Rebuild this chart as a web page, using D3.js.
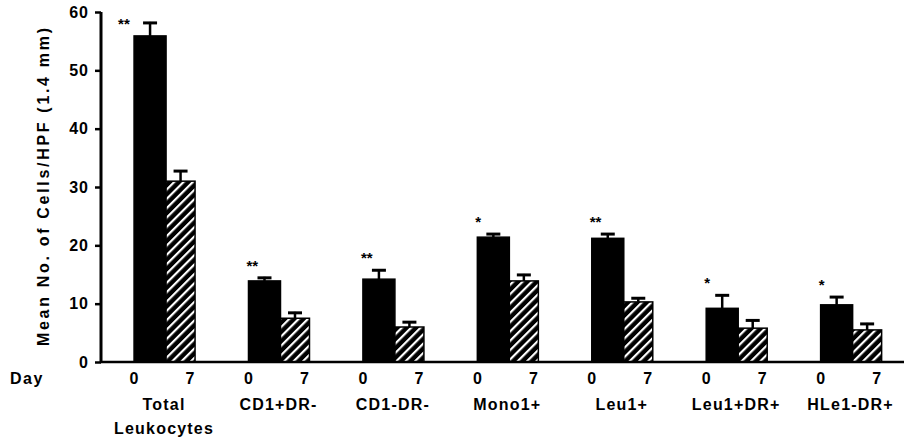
<!DOCTYPE html>
<html>
<head>
<meta charset="utf-8">
<script src="https://cdn.jsdelivr.net/npm/d3@7"></script>
<style>
  body { margin: 0; background: #fff; }
  svg { display: block; font-family: "Liberation Sans", Arial, sans-serif; }
</style>
</head>
<body>
<svg id="chart" width="904" height="441"></svg>
<script>
// cell groups and the two days
var groups = ["Total Leukocytes", "CD1+DR-", "CD1-DR-", "Mono1+", "Leu1+", "Leu1+DR+", "HLe1-DR+"];
var groupLines = [["Total", "Leukocytes"], ["CD1+DR-"], ["CD1-DR-"], ["Mono1+"], ["Leu1+"], ["Leu1+DR+"], ["HLe1-DR+"]];
var days = ["0", "7"];

// mean values and mean + error
var day0 = [55.9, 13.9, 14.2, 21.4, 21.2, 9.2, 9.8];
var day0Err = [58.3, 14.6, 15.9, 22.1, 22.1, 11.6, 11.3];
var day7 = [31.0, 7.5, 6.0, 13.9, 10.3, 5.8, 5.5];
var day7Err = [32.9, 8.6, 7.0, 15.1, 11.1, 7.3, 6.7];
var stars = ["**", "**", "**", "*", "**", "*", "*"];

var yTicks = [0, 10, 20, 30, 40, 50, 60];

var svg = d3.select("#chart");

var y = d3.scaleLinear().domain([0, 60]).range([362, 12]);

var x0 = d3.scaleBand().domain(groups).range([101, 902])
  .paddingInner(0.466).paddingOuter(0.233).align(0.62);

var x1 = d3.scaleOrdinal().domain(days).range([0, 32]);
var widths = { "0": 32, "7": 29 };

// hatch pattern
var defs = svg.append("defs");
var pat = defs.append("pattern")
  .attr("id", "hatch")
  .attr("patternUnits", "userSpaceOnUse")
  .attr("width", 6.6).attr("height", 6.6)
  .attr("patternTransform", "rotate(45)");
pat.append("rect").attr("width", 6.6).attr("height", 6.6).attr("fill", "#000");
pat.append("rect").attr("x", 0).attr("width", 2.2).attr("height", 6.6).attr("fill", "#fff");

var rows = [];
groups.forEach(function (g, i) {
  rows.push({ group: g, day: "0", v: day0[i], e: day0Err[i], i: i });
  rows.push({ group: g, day: "7", v: day7[i], e: day7Err[i], i: i });
});

// bars
svg.selectAll(".bar")
  .data(rows)
  .enter()
  .append("rect")
  .attr("class", "bar")
  .attr("x", function (d) { return x0(d.group) + x1(d.day); })
  .attr("y", function (d) { return y(d.v); })
  .attr("width", function (d) { return widths[d.day]; })
  .attr("height", function (d) { return y(0) - y(d.v); })
  .attr("fill", function (d) { return d.day == "0" ? "#000" : "url(#hatch)"; })
  .attr("stroke", "#000")
  .attr("stroke-width", 1.5);

// error bars
var eb = svg.selectAll(".err")
  .data(rows)
  .enter()
  .append("g")
  .attr("class", "err")
  .attr("transform", function (d) {
    return "translate(" + (x0(d.group) + x1(d.day) + widths[d.day] / 2) + ",0)";
  });
eb.append("line")
  .attr("y1", function (d) { return y(d.v); })
  .attr("y2", function (d) { return y(d.e); })
  .attr("stroke", "#000").attr("stroke-width", 2.5);
eb.append("line")
  .attr("x1", -7).attr("x2", 7)
  .attr("y1", function (d) { return y(d.e) + 1; })
  .attr("y2", function (d) { return y(d.e) + 1; })
  .attr("stroke", "#000").attr("stroke-width", 3);

// significance stars
svg.selectAll(".star")
  .data(groups)
  .enter()
  .append("text")
  .attr("class", "star")
  .attr("x", function (d, i) {
    var cy = y(day0Err[i]) - 15;
    return cy < 20 ? x0(d) - 16 : x0(d) - 2;
  })
  .attr("y", function (d, i) {
    var cy = y(day0Err[i]) - 15;
    return (cy < 20 ? 20 : cy) + 9;
  })
  .attr("font-size", 15)
  .attr("font-weight", "bold")
  .text(function (d, i) { return stars[i]; });

// y axis
var yAxis = svg.append("g")
  .attr("transform", "translate(101,0)")
  .call(d3.axisLeft(y).tickValues(yTicks).tickSize(6).tickPadding(6));
yAxis.select(".domain").attr("stroke-width", 3).attr("d", "M0," + y(0) + "V" + y(60));
yAxis.selectAll(".tick line").attr("stroke-width", 2.5);
yAxis.selectAll(".tick text")
  .attr("font-size", 16).attr("font-weight", "bold")
  .attr("font-family", "'Liberation Sans', Arial, sans-serif")
  .attr("fill", "#000").attr("letter-spacing", 1);

// baseline
svg.append("line")
  .attr("x1", 100).attr("x2", 904)
  .attr("y1", y(0)).attr("y2", y(0))
  .attr("stroke", "#000").attr("stroke-width", 2.5);

// y title
svg.append("text")
  .attr("transform", "translate(49," + 187 + ") rotate(-90)")
  .attr("text-anchor", "middle")
  .attr("font-size", 16).attr("font-weight", "bold")
  .attr("textLength", 318).attr("lengthAdjust", "spacing")
  .text("Mean No. of Cells/HPF (1.4 mm)");

// Day label
svg.append("text")
  .attr("x", 10).attr("y", 384)
  .attr("font-size", 16).attr("font-weight", "bold")
  .attr("letter-spacing", 1.5)
  .text("Day");

// day tick labels
svg.selectAll(".daylab")
  .data(rows)
  .enter()
  .append("text")
  .attr("class", "daylab")
  .attr("x", function (d) {
    return d.day == "0" ? x0(d.group) : x0(d.group) + x1(d.day) + widths[d.day] - 5;
  })
  .attr("y", 384)
  .attr("text-anchor", "middle")
  .attr("font-size", 16).attr("font-weight", "bold")
  .text(function (d) { return d.day; });

// group labels
var gl = svg.selectAll(".glab")
  .data(groups)
  .enter()
  .append("text")
  .attr("class", "glab")
  .attr("text-anchor", "middle")
  .attr("font-size", 16)
  .attr("letter-spacing", 1.2)
  .attr("font-weight", "bold");
gl.selectAll("tspan")
  .data(function (d, i) { return groupLines[i].map(function (t) { return { t: t, g: d }; }); })
  .enter()
  .append("tspan")
  .attr("x", function (d) { return x0(d.g) + 30; })
  .attr("y", function (d, j) { return 410 + j * 24; })
  .text(function (d) { return d.t; });
</script>
</body>
</html>
